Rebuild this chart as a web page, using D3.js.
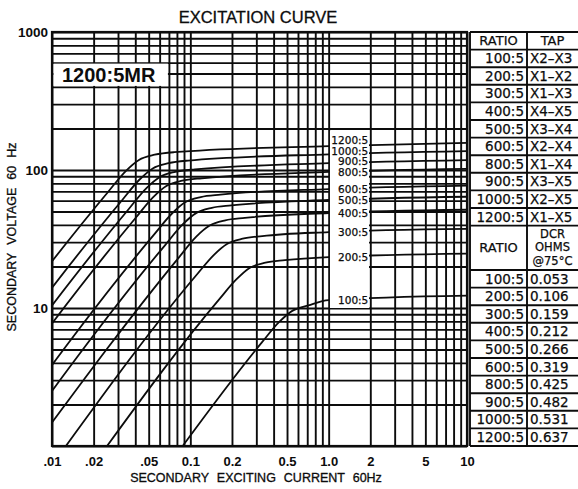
<!DOCTYPE html>
<html><head><meta charset="utf-8">
<script src="https://cdn.jsdelivr.net/npm/d3@7"></script>
<style>
body{margin:0;background:#fff}
svg{display:block}
</style>
</head><body>
<svg id="c" width="578" height="489"></svg>
<script>
// ---- DATA ----
const ratioLabels = ["100:5","200:5","300:5","400:5","500:5","600:5","800:5","900:5","1000:5","1200:5"];
const seriesCurrent = [
  [0.088,0.329,0.439,0.549,0.714,1,10],
  [0.025,0.161,0.215,0.268,0.349,0.483,1,10],
  [0.0126,0.110,0.147,0.184,0.239,0.331,1,10],
  [0.0075,0.0828,0.110,0.138,0.179,0.248,1,10],
  [0.0051,0.066,0.088,0.110,0.143,0.198,1,10],
  [0.0037,0.055,0.0734,0.0917,0.119,0.165,1,10],
  [0.0022,0.0403,0.0537,0.0671,0.0872,0.121,1,10],
  [0.00175,0.0359,0.0478,0.0598,0.0777,0.108,1,10],
  [0.0014,0.0321,0.0428,0.0535,0.0696,0.0963,1,10],
  [0.001,0.0255,0.034,0.0425,0.0553,0.0765,1,10]
];
const seriesVoltage = [
  [1,5.63,7.92,9.57,10.45,11.4,12.3],
  [1,11.5,16.1,19.5,21.3,22.2,23.4,24.8],
  [1,17.2,24.1,29.1,31.8,33.2,35.5,37.5],
  [1,23.3,32.8,39.6,43.2,45.0,48.8,51.5],
  [1,28.7,40.3,48.7,53.2,55.4,60.6,64],
  [1,34.3,48.2,58.3,63.7,66.3,72.8,77],
  [1,45.1,63.4,76.6,83.6,87.1,96.8,102],
  [1,52.2,73.4,88.7,96.9,101,112,118],
  [1,60.4,85,102.7,112,117,130,137],
  [1,69.6,97.9,118.3,129,134.6,149,157]
];
const xTickValues = [0.01,0.02,0.05,0.1,0.2,0.5,1,2,5,10];
const xTickLabels = [".01",".02",".05","0.1","0.2","0.5","1.0","2","5","10"];
const yTickValues = [1000,100,10];
const yTickLabels = ["1000","100","10"];
const tapRatios = ["100:5","200:5","300:5","400:5","500:5","600:5","800:5","900:5","1000:5","1200:5"];
const taps = ["X2\u2013X3","X1\u2013X2","X1\u2013X3","X4\u2013X5","X3\u2013X4","X2\u2013X4","X1\u2013X4","X3\u2013X5","X2\u2013X5","X1\u2013X5"];
const dcrOhms = ["0.053","0.106","0.159","0.212","0.266","0.319","0.425","0.482","0.531","0.637"];

// ---- LAYOUT ----
const L = 52, R = 467, T = 32, B = 446;
const svg = d3.select("#c");
const x = d3.scaleLog().domain([0.01,10]).range([L,R]);
const y = d3.scaleLog().domain([1,1000]).range([B,T]);
const ink = "#0c0c0c";
const gw = 1.9;

// grid values
const gridX = [], gridY = [];
[0.01,0.1,1].forEach(d => { for (let k=1;k<=9;k++) gridX.push(+(d*k).toPrecision(3)); });
gridX.push(10);
[1,10,100].forEach(d => { for (let k=1;k<=9;k++) gridY.push(+(d*k).toPrecision(3)); });
gridY.push(1000);

const grid = svg.append("g");
grid.append("g").attr("transform",`translate(0,${B})`)
  .call(d3.axisBottom(x).tickValues(gridX).tickSize(-(B-T)).tickFormat(""))
  .call(g => g.select(".domain").remove())
  .call(g => g.selectAll("line").attr("stroke",ink).attr("stroke-width",gw));
grid.append("g").attr("transform",`translate(${L},0)`)
  .call(d3.axisLeft(y).tickValues(gridY).tickSize(-(R-L)).tickFormat(""))
  .call(g => g.select(".domain").remove())
  .call(g => g.selectAll("line").attr("stroke",ink).attr("stroke-width",gw));

// 1200:5MR box
svg.append("rect").attr("x",L+1.5).attr("y",y(600)+1).attr("width",x(0.07)-L-2.5).attr("height",y(400)-y(600)-2).attr("fill","#fff");
svg.append("text").attr("x",62).attr("y",82).attr("font-family","Liberation Sans, Arial, sans-serif")
  .attr("font-weight","bold").attr("font-size",20).attr("fill",ink).text("1200:5MR");

// curves
svg.append("clipPath").attr("id","clip").append("rect").attr("x",L).attr("y",T).attr("width",R-L).attr("height",B-T);
const line = d3.line().x(d=>x(d[0])).y(d=>y(d[1])).curve(d3.curveMonotoneX);
const curves = svg.append("g").attr("clip-path","url(#clip)");
seriesCurrent.forEach((cur,i) => {
  const pts = cur.map((c,j)=>[c, seriesVoltage[i][j]]);
  curves.append("path").attr("d",line(pts)).attr("fill","none").attr("stroke",ink).attr("stroke-width",1.8);
});

// label box
svg.append("rect").attr("x",x(1)+1.3).attr("y",131).attr("width",x(2)-x(1)-2.6).attr("height",177).attr("fill","#fff");
const idx1 = seriesCurrent.map(c => c.indexOf(1));
let prev = Infinity;
const labY = [];
ratioLabels.forEach((r,i) => {
  let yy = y(seriesVoltage[i][idx1[i]]);
  if (yy > prev - 10.6) yy = prev - 10.6;
  labY.push(yy); prev = yy;
});
svg.append("g").selectAll("text").data(ratioLabels).join("text")
  .attr("x",x(2)-2).attr("y",(d,i)=>labY[i]).attr("dy","0.36em")
  .attr("text-anchor","end").attr("font-family","DejaVu Sans, sans-serif").attr("font-size",10.5)
  .attr("fill",ink).attr("stroke",ink).attr("stroke-width",0.25).text(d=>d);

// border
svg.append("rect").attr("x",L).attr("y",T).attr("width",R-L).attr("height",B-T)
  .attr("fill","none").attr("stroke",ink).attr("stroke-width",2.2);

// axes
const sans = "Liberation Sans, Arial, sans-serif";
svg.append("g").attr("transform",`translate(0,${B})`)
  .call(d3.axisBottom(x).tickValues(xTickValues).tickFormat((d,i)=>xTickLabels[i]).tickSize(0).tickPadding(11))
  .call(g => g.select(".domain").remove())
  .call(g => g.selectAll("text").attr("font-family",sans).attr("font-weight","bold").attr("font-size",13).attr("fill",ink));
svg.append("g").attr("transform",`translate(${L},0)`)
  .call(d3.axisLeft(y).tickValues(yTickValues).tickFormat((d,i)=>yTickLabels[i]).tickSize(0).tickPadding(4))
  .call(g => g.select(".domain").remove())
  .call(g => g.selectAll("text").attr("font-family",sans).attr("font-weight","bold").attr("font-size",13.5).attr("fill",ink));

// titles
svg.append("text").attr("x",258).attr("y",23).attr("text-anchor","middle")
  .attr("font-family",sans).attr("font-size",16.5).attr("fill",ink).attr("stroke",ink).attr("stroke-width",0.3).text("EXCITATION CURVE");
svg.append("text").attr("x",256).attr("y",482).attr("text-anchor","middle").attr("word-spacing",4.5)
  .attr("font-family",sans).attr("font-size",12.5).attr("fill",ink).attr("stroke",ink).attr("stroke-width",0.3).text("SECONDARY EXCITING CURRENT 60Hz");
svg.append("text").attr("transform","translate(16,237) rotate(-90)").attr("text-anchor","middle").attr("word-spacing",4.5)
  .attr("font-family",sans).attr("font-size",12.5).attr("fill",ink).attr("stroke",ink).attr("stroke-width",0.3).text("SECONDARY VOLTAGE 60 Hz");

// table
const tx0 = 470, tx1 = 527, tx2 = 582, rh = 17.6, h2 = 44.4;
const tb = svg.append("g").attr("font-family","DejaVu Sans, sans-serif").attr("font-size",13.5)
  .attr("fill",ink).attr("stroke",ink).attr("stroke-width",0.25);
const rowLines = [T];
let yy = T + rh; rowLines.push(yy);
for (let k=0;k<tapRatios.length;k++){ yy += rh; rowLines.push(yy); }
const h2Top = yy; yy += h2; rowLines.push(yy);
const r2Top = yy;
for (let k=0;k<dcrOhms.length;k++){ yy += rh; rowLines.push(yy); }
rowLines.forEach(v => tb.append("line").attr("x1",tx0).attr("x2",tx2).attr("y1",v).attr("y2",v).attr("stroke",ink).attr("stroke-width",gw));
[tx0,tx1].forEach(v => tb.append("line").attr("x1",v).attr("x2",v).attr("y1",T).attr("y2",B).attr("stroke",ink).attr("stroke-width",gw));
tb.append("text").attr("x",(tx0+tx1)/2).attr("y",T+rh/2).attr("dy","0.36em").attr("text-anchor","middle").attr("font-size",13).text("RATIO");
tb.append("text").attr("x",(tx1+578)/2).attr("y",T+rh/2).attr("dy","0.36em").attr("text-anchor","middle").attr("font-size",13).text("TAP");
tapRatios.forEach((r,i) => {
  const cy = T + rh + rh*i + rh/2;
  tb.append("text").attr("x",tx1-3).attr("y",cy).attr("dy","0.36em").attr("text-anchor","end").text(r);
  tb.append("text").attr("x",tx1+3).attr("y",cy).attr("dy","0.36em").text(taps[i]);
});
tb.append("text").attr("x",(tx0+tx1)/2).attr("y",h2Top+h2/2).attr("dy","0.36em").attr("text-anchor","middle").attr("font-size",13).text("RATIO");
["DCR","OHMS","@75°C"].forEach((t,i)=>{
  tb.append("text").attr("x",(tx1+578)/2).attr("y",h2Top+8.5+i*13.2).attr("dy","0.36em").attr("text-anchor","middle").attr("font-size",11.5).text(t);
});
tapRatios.forEach((r,i) => {
  const cy = r2Top + rh*i + rh/2;
  tb.append("text").attr("x",tx1-3).attr("y",cy).attr("dy","0.36em").attr("text-anchor","end").text(r);
  tb.append("text").attr("x",tx1+3).attr("y",cy).attr("dy","0.36em").text(dcrOhms[i]);
});
</script>
</body></html>
